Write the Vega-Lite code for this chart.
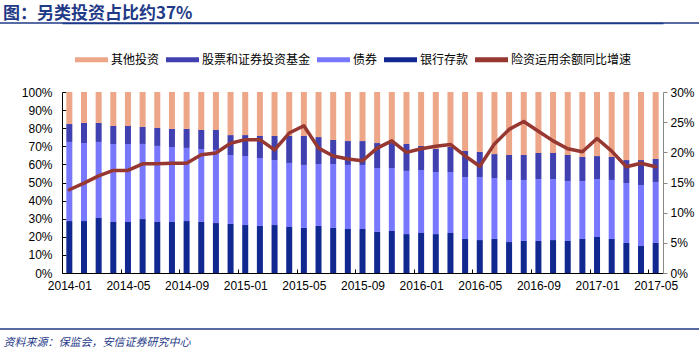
{
  "$schema": "https://vega.github.io/schema/vega-lite/v6.json",
  "autosize": "none",
  "width": 601,
  "height": 181,
  "padding": {"left": 62, "top": 92, "right": 36, "bottom": 78},
  "background": "white",
  "config": {"view": {"stroke": null}, "font": "Liberation Sans"},
  "title": {
    "text": "图：另类投资占比约37%",
    "anchor": "start",
    "frame": "group",
    "dx": -59,
    "offset": -1,
    "font": "Noto Sans CJK SC",
    "fontSize": 17,
    "fontWeight": "bold",
    "color": "#1F3A87"
  },
  "data": {
    "values": [
      {"m": "2014-01", "银行存款": 28.7, "债券": 43.7, "股票和证券投资基金": 9.9, "其他投资": 17.7, "g": 13.8},
      {"m": "2014-02", "银行存款": 28.7, "债券": 43.1, "股票和证券投资基金": 11.1, "其他投资": 17.1, "g": 14.9},
      {"m": "2014-03", "银行存款": 30.4, "债券": 42.0, "股票和证券投资基金": 10.5, "其他投资": 17.1, "g": 16.1},
      {"m": "2014-04", "银行存款": 28.2, "债券": 43.1, "股票和证券投资基金": 9.9, "其他投资": 18.8, "g": 17.0},
      {"m": "2014-05", "银行存款": 28.2, "债券": 43.1, "股票和证券投资基金": 9.9, "其他投资": 18.8, "g": 17.0},
      {"m": "2014-06", "银行存款": 29.8, "债券": 41.5, "股票和证券投资基金": 9.4, "其他投资": 19.3, "g": 18.1},
      {"m": "2014-07", "银行存款": 28.2, "债券": 42.0, "股票和证券投资基金": 9.9, "其他投资": 19.9, "g": 18.1},
      {"m": "2014-08", "银行存款": 28.2, "债券": 41.4, "股票和证券投资基金": 10.0, "其他投资": 20.4, "g": 18.2},
      {"m": "2014-09", "银行存款": 28.7, "债券": 40.4, "股票和证券投资基金": 10.5, "其他投资": 20.4, "g": 18.2},
      {"m": "2014-10", "银行存款": 28.2, "债券": 40.3, "股票和证券投资基金": 10.5, "其他投资": 21.0, "g": 19.6},
      {"m": "2014-11", "银行存款": 27.6, "债券": 40.4, "股票和证券投资基金": 11.0, "其他投资": 21.0, "g": 19.9},
      {"m": "2014-12", "银行存款": 27.1, "债券": 38.1, "股票和证券投资基金": 11.0, "其他投资": 23.8, "g": 21.5},
      {"m": "2015-01", "银行存款": 26.5, "债券": 38.1, "股票和证券投资基金": 11.6, "其他投资": 23.8, "g": 22.1},
      {"m": "2015-02", "银行存款": 26.0, "债券": 37.5, "股票和证券投资基金": 12.2, "其他投资": 24.3, "g": 22.1},
      {"m": "2015-03", "银行存款": 26.5, "债券": 35.9, "股票和证券投资基金": 13.3, "其他投资": 24.3, "g": 20.4},
      {"m": "2015-04", "银行存款": 25.4, "债券": 35.4, "股票和证券投资基金": 14.9, "其他投资": 24.3, "g": 23.2},
      {"m": "2015-05", "银行存款": 24.9, "债券": 34.8, "股票和证券投资基金": 16.0, "其他投资": 24.3, "g": 24.4},
      {"m": "2015-06", "银行存款": 26.0, "债券": 34.2, "股票和证券投资基金": 14.9, "其他投资": 24.9, "g": 20.7},
      {"m": "2015-07", "银行存款": 24.9, "债券": 35.3, "股票和证券投资基金": 13.3, "其他投资": 26.5, "g": 19.4},
      {"m": "2015-08", "银行存款": 24.3, "债券": 35.4, "股票和证券投资基金": 13.2, "其他投资": 27.1, "g": 18.9},
      {"m": "2015-09", "银行存款": 24.3, "债券": 35.4, "股票和证券投资基金": 13.2, "其他投资": 27.1, "g": 18.6},
      {"m": "2015-10", "银行存款": 22.7, "债券": 35.3, "股票和证券投资基金": 13.8, "其他投资": 28.2, "g": 20.7},
      {"m": "2015-11", "银行存款": 23.2, "债券": 34.8, "股票和证券投资基金": 13.8, "其他投资": 28.2, "g": 21.9},
      {"m": "2015-12", "银行存款": 21.5, "债券": 34.9, "股票和证券投资基金": 14.9, "其他投资": 28.7, "g": 20.0},
      {"m": "2016-01", "银行存款": 22.1, "债券": 34.8, "股票和证券投资基金": 13.3, "其他投资": 29.8, "g": 20.6},
      {"m": "2016-02", "银行存款": 21.5, "债券": 34.3, "股票和证券投资基金": 12.7, "其他投资": 31.5, "g": 21.0},
      {"m": "2016-03", "银行存款": 22.1, "债券": 33.7, "股票和证券投资基金": 13.8, "其他投资": 30.4, "g": 21.3},
      {"m": "2016-04", "银行存款": 18.8, "债券": 34.2, "股票和证券投资基金": 14.4, "其他投资": 32.6, "g": 19.4},
      {"m": "2016-05", "银行存款": 18.2, "债券": 34.8, "股票和证券投资基金": 13.9, "其他投资": 33.1, "g": 17.7},
      {"m": "2016-06", "银行存款": 18.8, "债券": 33.7, "股票和证券投资基金": 13.2, "其他投资": 34.3, "g": 21.4},
      {"m": "2016-07", "银行存款": 17.1, "债券": 34.3, "股票和证券投资基金": 13.8, "其他投资": 34.8, "g": 23.8},
      {"m": "2016-08", "银行存款": 17.7, "债券": 33.7, "股票和证券投资基金": 13.8, "其他投资": 34.8, "g": 25.1},
      {"m": "2016-09", "银行存款": 17.7, "债券": 34.2, "股票和证券投资基金": 14.4, "其他投资": 33.7, "g": 23.5},
      {"m": "2016-10", "银行存款": 18.2, "债券": 33.7, "股票和证券投资基金": 14.4, "其他投资": 33.7, "g": 21.9},
      {"m": "2016-11", "银行存款": 17.7, "债券": 33.1, "股票和证券投资基金": 14.4, "其他投资": 34.8, "g": 20.6},
      {"m": "2016-12", "银行存款": 18.8, "债券": 32.0, "股票和证券投资基金": 13.3, "其他投资": 35.9, "g": 20.1},
      {"m": "2017-01", "银行存款": 19.9, "债券": 32.0, "股票和证券投资基金": 12.7, "其他投资": 35.4, "g": 22.3},
      {"m": "2017-02", "银行存款": 18.8, "债券": 32.6, "股票和证券投资基金": 12.7, "其他投资": 35.9, "g": 20.2},
      {"m": "2017-03", "银行存款": 16.6, "债券": 33.1, "股票和证券投资基金": 12.7, "其他投资": 37.6, "g": 17.6},
      {"m": "2017-04", "银行存款": 14.9, "债券": 33.7, "股票和证券投资基金": 13.8, "其他投资": 37.6, "g": 18.2},
      {"m": "2017-05", "银行存款": 16.6, "债券": 33.7, "股票和证券投资基金": 12.7, "其他投资": 37.0, "g": 17.6}
    ]
  },
  "layer": [
    {
      "data": {"values": [{"note": "decor"}]},
      "mark": {"type": "rule", "color": "#1F3A87", "strokeWidth": 1.5, "clip": false},
      "encoding": {
        "x": {"datum": -0.1032, "type": "quantitative", "scale": {"domain": [0, 1], "nice": false, "zero": false}, "axis": null},
        "x2": {"datum": 1.06},
        "y": {"datum": 1.381, "type": "quantitative", "scale": {"domain": [0, 1], "nice": false, "zero": false}, "axis": null}
      }
    },
    {
      "transform": [{"filter": "datum.m == '2014-01'"}],
      "mark": {"type": "rule", "color": "#1F3A87", "strokeWidth": 1.5, "clip": false},
      "encoding": {
        "x": {"datum": -0.1032, "type": "quantitative", "scale": {"domain": [0, 1], "nice": false, "zero": false}, "axis": null},
        "x2": {"datum": 1.06},
        "y": {"datum": -0.309, "type": "quantitative", "scale": {"domain": [0, 1], "nice": false, "zero": false}, "axis": null}
      }
    },
    {
      "transform": [
        {"fold": ["银行存款", "债券", "股票和证券投资基金", "其他投资"], "as": ["type", "v"]},
        {"calculate": "indexof(['银行存款','债券','股票和证券投资基金','其他投资'], datum.type)", "as": "ord"}
      ],
      "mark": {"type": "bar"},
      "encoding": {
        "x": {
          "field": "m", "type": "ordinal", "sort": null,
          "scale": {"type": "band", "paddingInner": 0.59, "paddingOuter": 0.295},
          "axis": {
            "values": ["2014-01", "2014-05", "2014-09", "2015-01", "2015-05", "2015-09", "2016-01", "2016-05", "2016-09", "2017-01", "2017-05"],
            "labelAngle": 0,
            "labelFontSize": 12,
            "labelColor": "#000000",
            "labelFont": "Liberation Sans",
            "tickOffset": -7.33,
            "labelOffset": 7.33,
            "tickSize": -4,
            "tickColor": "#000000",
            "labelPadding": 11,
            "domainColor": "#000000",
            "domainWidth": 1,
            "grid": false,
            "title": "资料来源：保监会，安信证券研究中心",
            "titleFont": "Noto Sans CJK SC",
            "titleFontSize": 11,
            "titleFontWeight": "normal",
            "titleFontStyle": "italic",
            "titleColor": "#1F3A87",
            "titleAnchor": "start",
            "titleAlign": "left",
            "titleBaseline": "middle",
            "titleX": -59,
            "titleY": 69
          }
        },
        "y": {
          "field": "v", "type": "quantitative", "stack": "zero",
          "scale": {"domain": [0, 100], "nice": false},
          "axis": {
            "orient": "left",
            "values": [0, 10, 20, 30, 40, 50, 60, 70, 80, 90, 100],
            "labelExpr": "datum.value + '%'",
            "labelFontSize": 12,
            "labelColor": "#000000",
            "tickSize": -4,
            "tickColor": "#000000",
            "labelPadding": 14,
            "domainColor": "#000000",
            "grid": false,
            "title": null
          }
        },
        "color": {
          "field": "type", "type": "nominal",
          "scale": {
            "domain": ["其他投资", "股票和证券投资基金", "债券", "银行存款", "险资运用余额同比增速"],
            "range": ["#EDA688", "#4040B0", "#7878FF", "#10288F", "#963731"]
          },
          "legend": {
            "orient": "none",
            "legendX": 13,
            "legendY": -49,
            "direction": "horizontal",
            "title": null,
            "symbolType": "M-1,-0.15H1V0.15H-1Z",
            "symbolSize": 1089,
            "symbolStrokeWidth": 0,
            "labelFont": "Noto Sans CJK SC",
            "labelFontSize": 12,
            "labelColor": "#000000",
            "labelOffset": 3,
            "columnPadding": 6
          }
        },
        "order": {"field": "ord", "type": "quantitative", "sort": "ascending"}
      }
    },
    {
      "mark": {"type": "line", "strokeWidth": 3.5, "strokeCap": "round", "strokeJoin": "round"},
      "encoding": {
        "x": {
          "field": "m", "type": "ordinal", "sort": null,
          "scale": {"type": "band", "paddingInner": 0.59, "paddingOuter": 0.295},
          "axis": {"orient": "top", "offset": 69, "labels": false, "ticks": false, "grid": false, "domainColor": "#1F3A87", "domainWidth": 1.5, "title": null}
        },
        "y": {
          "field": "g", "type": "quantitative",
          "scale": {"domain": [0, 30], "nice": false},
          "axis": {
            "orient": "right",
            "values": [0, 5, 10, 15, 20, 25, 30],
            "labelExpr": "datum.value + '%'",
            "labelFontSize": 12,
            "labelColor": "#000000",
            "tickSize": 4,
            "tickColor": "#888888",
            "labelPadding": 3,
            "domainColor": "#888888",
            "grid": false,
            "title": null
          }
        },
        "color": {"datum": "险资运用余额同比增速", "type": "nominal"}
      }
    }
  ],
  "resolve": {"scale": {"x": "independent", "y": "independent"}}
}
